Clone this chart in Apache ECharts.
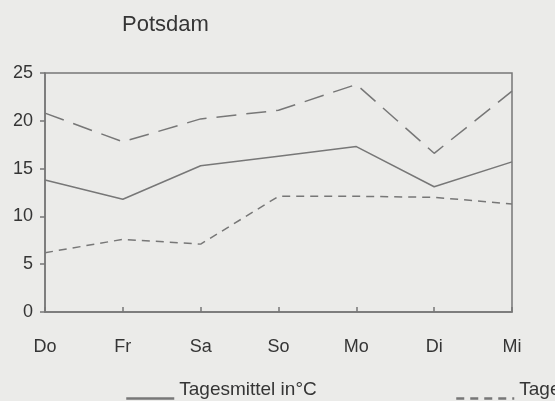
<!DOCTYPE html>
<html><head><meta charset="utf-8">
<script src="https://cdn.jsdelivr.net/npm/echarts@6/dist/echarts.min.js"></script>
<style>html,body{margin:0;padding:0;background:#ebebe9;}#c{width:555px;height:401px;}</style>
</head><body><div id="c"></div>
<script>
const categories = ['Do','Fr','Sa','So','Mo','Di','Mi'];
const mittel = [13.8, 11.8, 15.3, 16.3, 17.3, 13.1, 15.7];
const maximum = [20.8, 17.8, 20.2, 21.1, 23.8, 16.6, 23.1];
const minimum = [6.2, 7.6, 7.1, 12.1, 12.1, 12.0, 11.3];
const yTicks = [0, 25, 5];
const names = ['Tagesmittel in°C', 'Tagesminimum in°C', 'Tagesmaximum in°C'];

const font = 'Liberation Sans, Arial, sans-serif';
const lineColor = '#777';
const txt = '#353535';
const chart = echarts.init(document.getElementById('c'), null, {renderer:'canvas'});
const legendText = {
  color: txt, fontSize: 19, fontFamily: font,
  rich: {a: {color: txt, fontSize: 19, fontFamily: font, lineHeight: 20}, b: {height: 18, lineHeight: 18}}
};
const legendFmt = function (n) { return '{a|' + n + '}\n{b|}'; };
chart.setOption({
  backgroundColor: '#ebebe9',
  animation: false,
  title: {text: 'Potsdam', left: 117, top: 9, textStyle: {color: txt, fontSize: 22, fontWeight: 'normal', fontFamily: font}},
  grid: {left: 45, right: 43, top: 73, bottom: 89, show: true, borderColor: lineColor, borderWidth: 1.5, backgroundColor: 'transparent'},
  legend: [
    {data: [names[0]], left: 125, top: 380, padding: 0, itemWidth: 48, itemHeight: 14, itemGap: 0, itemStyle: {opacity: 0}, lineStyle: {width: 2.5}, textStyle: legendText, formatter: legendFmt},
    {data: [names[1]], left: 455, top: 380, padding: 0, itemWidth: 58, itemHeight: 14, itemGap: 0, itemStyle: {opacity: 0}, lineStyle: {width: 2.5}, textStyle: legendText, formatter: legendFmt}
  ],
  xAxis: {
    type: 'category', data: categories, boundaryGap: false,
    axisLine: {lineStyle: {color: lineColor, width: 1.5}},
    axisTick: {inside: true, length: 5, lineStyle: {color: lineColor, width: 1.5}},
    axisLabel: {color: txt, fontSize: 18, fontFamily: font, margin: 26},
    splitLine: {show: false}
  },
  yAxis: {
    type: 'value', min: yTicks[0], max: yTicks[1], interval: yTicks[2],
    axisLine: {show: true, lineStyle: {color: lineColor, width: 1.5}},
    axisTick: {show: true, length: 5, lineStyle: {color: lineColor, width: 1.5}},
    axisLabel: {color: txt, fontSize: 18, fontFamily: font, margin: 12},
    splitLine: {show: false}
  },
  series: [
    {name: names[0], type: 'line', data: mittel, symbol: 'none', lineStyle: {color: lineColor, width: 1.5, type: 'solid'}, itemStyle: {color: lineColor}},
    {name: names[1], type: 'line', data: minimum, symbol: 'none', lineStyle: {color: lineColor, width: 1.5, type: [8,6]}, itemStyle: {color: lineColor}},
    {name: names[2], type: 'line', data: maximum, symbol: 'none', lineStyle: {color: lineColor, width: 1.5, type: [20,10]}, itemStyle: {color: lineColor}}
  ]
});
</script></body></html>
